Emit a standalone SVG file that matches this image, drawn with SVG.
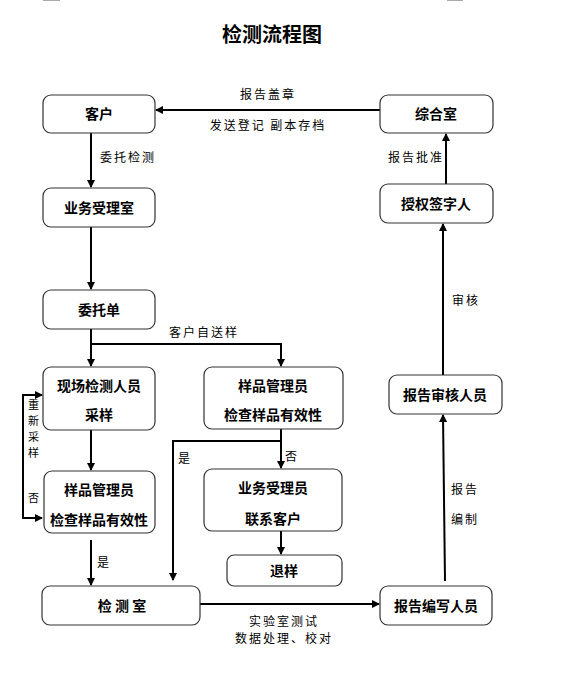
<svg xmlns="http://www.w3.org/2000/svg" width="563" height="676" viewBox="0 0 563 676">
<defs>
<marker id="ah" viewBox="0 0 8 8" refX="7" refY="4" markerWidth="4" markerHeight="4" orient="auto" markerUnits="strokeWidth">
<path d="M0,0 L8,4 L0,8 Z" fill="#000"/>
</marker>
<style>
.box{fill:#fff;stroke:#333;stroke-width:1.2}
.nt{font-family:"Noto Sans CJK SC","Liberation Sans",sans-serif;font-size:14px;font-weight:bold;fill:#000;text-anchor:middle}
.lb{font-family:"Noto Sans CJK SC","Liberation Sans",sans-serif;font-size:12px;fill:#000;letter-spacing:2px}
.vt{font-family:"Noto Sans CJK SC","Liberation Sans",sans-serif;font-size:11px;fill:#000}
.ln{fill:none;stroke:#000;stroke-width:2}
.ar{marker-end:url(#ah)}
</style>
</defs>
<rect width="563" height="676" fill="#fff"/>
<line x1="43" y1="0.5" x2="60" y2="0.5" stroke="#aaa" stroke-width="1"/>
<line x1="447" y1="0.5" x2="463" y2="0.5" stroke="#aaa" stroke-width="1"/>
<text x="272" y="42" font-family="'Noto Sans CJK SC',sans-serif" font-size="20" font-weight="bold" text-anchor="middle">检测流程图</text>

<g id="connectors">
<path class="ln ar" d="M380,110 H156"/>
<path class="ln ar" d="M91,133 V187"/>
<path class="ln ar" d="M91,227 V289"/>
<path class="ln ar" d="M91,329 V366"/>
<path class="ln ar" d="M91,344 H281 V366"/>
<path class="ln ar" d="M91,430 V470"/>
<path class="ln ar" d="M23,518 V395 H42"/>
<path class="ln ar" d="M23,500 V518 H42"/>
<path class="ln ar" d="M91,540 V585"/>
<path class="ln ar" d="M281,429 V468"/>
<path class="ln ar" d="M281,441 H173 V580"/>
<path class="ln ar" d="M281,531 V554"/>
<path class="ln ar" d="M200,604 H379"/>
<path class="ln ar" d="M445,581 L443,415"/>
<path class="ln ar" d="M443,375 V224"/>
<path class="ln ar" d="M446,184 V134"/>
</g>

<g id="labels">
<text class="lb" x="268" y="99" text-anchor="middle">报告盖章</text>
<text class="lb" x="268" y="130" text-anchor="middle">发送登记 副本存档</text>
<text class="lb" x="100" y="162">委托检测</text>
<text class="lb" x="388" y="162">报告批准</text>
<text class="lb" x="452" y="305">审核</text>
<text class="lb" x="169" y="337">客户自送样</text>
<text class="vt" x="28" y="409">重</text>
<text class="vt" x="28" y="425">新</text>
<text class="vt" x="28" y="441">采</text>
<text class="vt" x="28" y="457">样</text>
<text class="vt" x="28" y="502">否</text>
<text class="lb" x="178" y="463">是</text>
<text class="lb" x="285" y="461">否</text>
<text class="lb" x="97" y="567">是</text>
<text class="lb" x="451" y="494">报告</text>
<text class="lb" x="451" y="524">编制</text>
<text class="lb" x="284" y="626" text-anchor="middle">实验室测试</text>
<text class="lb" x="284" y="643" text-anchor="middle">数据处理、校对</text>
</g>

<g id="n-kehu"><rect class="box" x="43" y="95" width="112" height="38" rx="8"/><text class="nt" x="99" y="119">客户</text></g>
<g id="n-zonghe"><rect class="box" x="380" y="95" width="113" height="38" rx="8"/><text class="nt" x="436" y="119">综合室</text></g>
<g id="n-yewushouli"><rect class="box" x="43" y="188" width="112" height="39" rx="8"/><text class="nt" x="99" y="213">业务受理室</text></g>
<g id="n-shouquan"><rect class="box" x="380" y="184" width="113" height="39" rx="8"/><text class="nt" x="436" y="209">授权签字人</text></g>
<g id="n-weituodan"><rect class="box" x="43" y="290" width="112" height="39" rx="8"/><text class="nt" x="99" y="315">委托单</text></g>
<g id="n-xianchang"><rect class="box" x="43" y="367" width="112" height="63" rx="8"/><text class="nt" x="99" y="391">现场检测人员</text><text class="nt" x="99" y="420">采样</text></g>
<g id="n-yangpin-r"><rect class="box" x="204" y="367" width="139" height="62" rx="8"/><text class="nt" x="273" y="391">样品管理员</text><text class="nt" x="273" y="420">检查样品有效性</text></g>
<g id="n-shenhe"><rect class="box" x="389" y="375" width="113" height="39" rx="8"/><text class="nt" x="445" y="400">报告审核人员</text></g>
<g id="n-yangpin-l"><rect class="box" x="44" y="471" width="111" height="62" rx="8"/><text class="nt" x="99" y="495">样品管理员</text><text class="nt" x="99" y="525">检查样品有效性</text></g>
<g id="n-yewuyuan"><rect class="box" x="204" y="469" width="138" height="62" rx="8"/><text class="nt" x="273" y="493">业务受理员</text><text class="nt" x="273" y="524">联系客户</text></g>
<g id="n-tuiyang"><rect class="box" x="227" y="555" width="115" height="31" rx="7"/><text class="nt" x="284" y="576">退样</text></g>
<g id="n-jianceshi"><rect class="box" x="42" y="586" width="158" height="39" rx="8"/><text class="nt" x="122" y="611" xml:space="preserve">检 测 室</text></g>
<g id="n-bianxie"><rect class="box" x="380" y="586" width="112" height="39" rx="8"/><text class="nt" x="436" y="611">报告编写人员</text></g>
</svg>
